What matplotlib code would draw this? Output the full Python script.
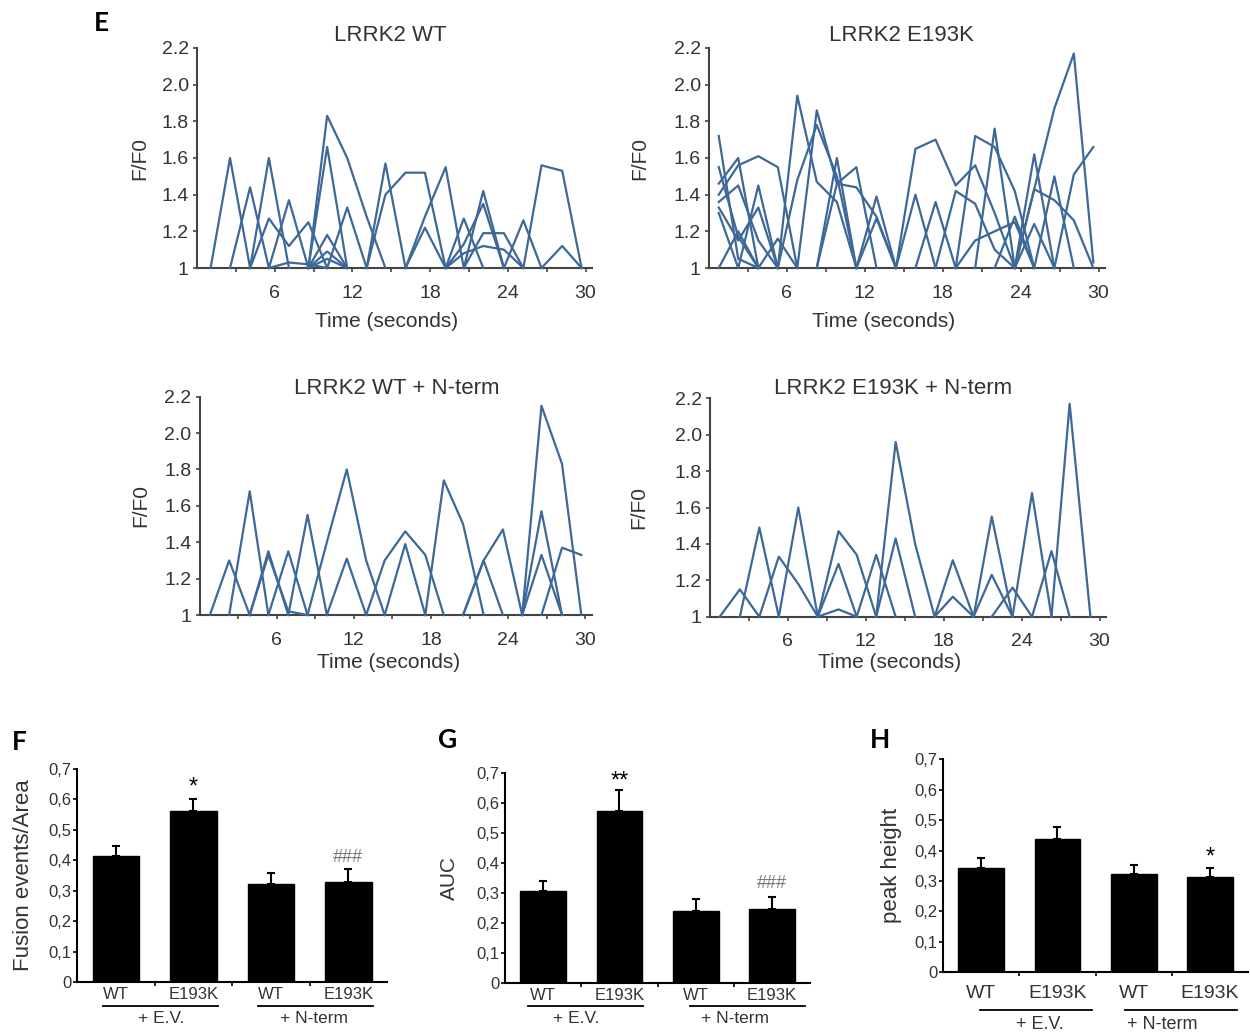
import numpy as np
import matplotlib
matplotlib.use('Agg')
import matplotlib.pyplot as plt
from matplotlib.ticker import FixedLocator, FuncFormatter

plt.rcParams['font.family'] = ['Liberation Sans', 'DejaVu Sans']

# -------------------------
# DATA: F/F0 traces, each as (first frame index, values)
# -------------------------
time_wt = [1.05, 2.55, 4.1, 5.55, 7.1, 8.6, 10.05, 11.6, 13.1, 14.55,
           16.1, 17.6, 19.2, 20.6, 22.1, 23.7, 25.2, 26.6, 28.2, 29.7]
time_e193k = [0.75, 2.25, 3.8, 5.3, 6.8, 8.3, 9.85, 11.35, 12.9, 14.4,
              15.9, 17.45, 19.0, 20.5, 22.0, 23.55, 25.05, 26.6, 28.1, 29.6]
time_wt_nterm = [0.8, 2.3, 3.9, 5.35, 6.9, 8.4, 9.9, 11.45, 12.96, 14.4,
                 16.0, 17.56, 19.0, 20.5, 22.1, 23.6, 25.1, 26.6, 28.2, 29.7]
time_e193k_nterm = [0.75, 2.3, 3.8, 5.3, 6.8, 8.3, 9.9, 11.3, 12.8, 14.3,
                    15.8, 17.3, 18.7, 20.3, 21.7, 23.3, 24.8, 26.3, 27.7, 29.3]

traces_wt = [
    (0, [1, 1.6, 1]), (1, [1, 1.44, 1]), (2, [1, 1.6, 1]),
    (2, [1, 1.27, 1.12, 1.25, 1]), (3, [1, 1.37, 1]), (3, [1, 1.03, 1.02, 1]),
    (5, [1, 1.83, 1.6, 1.28, 1]), (5, [1, 1.66, 1]), (6, [1, 1.33, 1]),
    (5, [1, 1.18, 1]), (5, [1, 1.09, 1]), (5, [1, 1.05, 1]),
    (8, [1, 1.57, 1]), (8, [1, 1.4, 1.52, 1.52, 1]), (10, [1, 1.28, 1.55, 1]),
    (10, [1, 1.22, 1]), (12, [1, 1.27, 1]), (13, [1, 1.42, 1]),
    (12, [1, 1.13, 1.35, 1]), (13, [1, 1.19, 1.19, 1]), (15, [1, 1.26, 1]),
    (16, [1, 1.56, 1.53, 1]), (17, [1, 1.12, 1]), (12, [1, 1.08, 1.12, 1.1, 1]),
]

traces_e193k = [
    (0, [1.72, 1.05, 1]), (0, [1.55, 1.17, 1]), (0, [1.46, 1.6, 1]),
    (0, [1.4, 1.56, 1.61, 1.55, 1]), (0, [1.36, 1.45, 1.15, 1]),
    (0, [1.33, 1.15, 1.33, 1]), (0, [1.3, 1, 1.45, 1]), (0, [1, 1.2, 1]),
    (2, [1, 1.16, 1]), (3, [1, 1.94, 1.47, 1.36, 1]),
    (4, [1, 1.86, 1.46, 1.44, 1.28, 1]), (3, [1, 1.48, 1.78, 1.5, 1]),
    (5, [1, 1.6, 1]), (5, [1, 1.46, 1.55, 1]), (7, [1, 1.39, 1]),
    (7, [1, 1.27, 1]), (9, [1, 1.65, 1.7, 1.45, 1.56, 1.3, 1]),
    (12, [1, 1.72, 1.66, 1.42, 1]), (13, [1, 1.76, 1]), (9, [1, 1.4, 1]),
    (10, [1, 1.36, 1]), (11, [1, 1.42, 1.35, 1.1, 1]), (14, [1, 1.28, 1]),
    (15, [1, 1.62, 1]), (15, [1, 1.43, 1.87, 2.17, 1.03]),
    (15, [1, 1.43, 1.37, 1.26, 1]), (17, [1, 1.51, 1.66]),
    (16, [1, 1.5, 1]), (15, [1, 1.24, 1]), (12, [1, 1.15, 1.2, 1.25, 1]),
]

traces_wt_nterm = [
    (0, [1, 1.3, 1]), (1, [1, 1.68, 1]), (2, [1, 1.35, 1]),
    (2, [1, 1.33, 1.02, 1]), (3, [1, 1.35, 1]), (4, [1, 1.55, 1]),
    (5, [1, 1.4, 1.8, 1.3, 1]), (6, [1, 1.31, 1]), (8, [1, 1.3, 1.46, 1.33, 1]),
    (9, [1, 1.39, 1]), (11, [1, 1.74, 1.5, 1]), (13, [1, 1.3, 1.47, 1]),
    (13, [1, 1.3, 1]), (16, [1, 2.15, 1.83, 1]), (16, [1, 1.57, 1]),
    (16, [1, 1.33, 1]), (17, [1, 1.37, 1.33]),
]

traces_e193k_nterm = [
    (0, [1, 1.15, 1]), (1, [1, 1.49, 1]), (2, [1, 1.33, 1.18, 1]),
    (3, [1, 1.6, 1]), (5, [1, 1.47, 1.34, 1]), (5, [1, 1.29, 1]),
    (5, [1, 1.04, 1]), (7, [1, 1.34, 1]), (8, [1, 1.96, 1.4, 1]),
    (8, [1, 1.43, 1]), (11, [1, 1.31, 1]), (11, [1, 1.11, 1]),
    (13, [1, 1.55, 1]), (13, [1, 1.23, 1]), (14, [1, 1.16, 1]),
    (15, [1, 1.68, 1]), (16, [1, 1.36, 1]), (17, [1, 2.17, 1]),
]

# bar charts
groups = ['WT', 'E193K', 'WT', 'E193K']
fusion_mean = [0.415, 0.562, 0.322, 0.33]
fusion_err = [0.031, 0.038, 0.035, 0.043]
auc_mean = [0.307, 0.574, 0.24, 0.246]
auc_err = [0.031, 0.068, 0.04, 0.041]
peak_mean = [0.342, 0.437, 0.324, 0.314]
peak_err = [0.035, 0.039, 0.029, 0.03]

# -------------------------
# FIGURE
# -------------------------
W, H = 1250, 1033
fig = plt.figure(figsize=(W / 100, H / 100), dpi=100, facecolor='w')


def box(l, t, r, b):
    return [l / W, 1 - b / H, (r - l) / W, (b - t) / H]


LINE_C = '#3d6898'
TXT = '#333333'


def trace_panel(rect, time, traces, title, tx, ty, ylx, xlx, xly):
    ax = fig.add_axes(rect)
    for start, vals in traces:
        ax.plot(time[start:start + len(vals)], vals, color=LINE_C, lw=1.6,
                clip_on=False, zorder=3)
    ax.set_xlim(0, 30.5)
    ax.set_ylim(1, 2.2)
    for s in ['top', 'right']:
        ax.spines[s].set_visible(False)
    for s in ['left', 'bottom']:
        ax.spines[s].set_color('#444444')
        ax.spines[s].set_linewidth(1.5)
    ax.xaxis.set_major_locator(FixedLocator([6, 12, 18, 24, 30]))
    ax.xaxis.set_minor_locator(FixedLocator([3, 9, 15, 21, 27]))
    ax.yaxis.set_major_locator(FixedLocator([1, 1.2, 1.4, 1.6, 1.8, 2.0, 2.2]))
    ax.yaxis.set_major_formatter(FuncFormatter(lambda v, p: '1' if abs(v - 1) < 1e-6 else '%.1f' % v))
    ax.tick_params(axis='x', which='both', direction='out', length=3, width=1.2,
                   color='#444444', labelsize=14, labelcolor=TXT, pad=9)
    ax.tick_params(axis='y', direction='out', length=3, width=1.2,
                   color='#444444', labelsize=14, labelcolor=TXT, pad=3)
    ax.set_ylabel('F/F0', fontsize=15, color=TXT)
    ax.yaxis.set_label_coords(ylx, 0.5)
    ax.set_xlabel('Time (seconds)', fontsize=15, color=TXT)
    ax.xaxis.set_label_coords(xlx, xly)
    ax.text(tx, ty, title, transform=ax.transAxes, ha='center', va='baseline',
            fontsize=16, color=TXT)
    return ax


trace_panel(box(197, 48, 592, 268), time_wt, traces_wt, 'LRRK2 WT',
            0.49, 1.03, -0.12, 0.48, -0.20)
trace_panel(box(709, 48, 1105, 268), time_e193k, traces_e193k, 'LRRK2 E193K',
            0.486, 1.03, -0.15, 0.44, -0.20)
trace_panel(box(199.6, 396.7, 591.6, 615), time_wt_nterm, traces_wt_nterm,
            'LRRK2 WT + N-term', 0.504, 1.012, -0.125, 0.483, -0.175)
trace_panel(box(710, 398.3, 1106, 616.7), time_e193k_nterm, traces_e193k_nterm,
            'LRRK2 E193K + N-term', 0.462, 1.018, -0.155, 0.454, -0.165)


def bar_panel(rect, means, errs, ylabel, ylx, fs_cat, cat_pad, line_y, lab_y,
              lines, lab_x, fs_lab, marks):
    ax = fig.add_axes(rect)
    x = np.arange(len(groups)) + 0.5
    ax.bar(x, means, width=0.6, color='black', edgecolor='black')
    ax.errorbar(x, means, yerr=[np.zeros(len(errs)), errs], fmt='none',
                ecolor='black', elinewidth=1.5, capsize=3, capthick=1.5)
    ax.set_xlim(0, 4)
    ax.set_ylim(0, 0.7)
    for s in ['top', 'right']:
        ax.spines[s].set_visible(False)
    for s in ['left', 'bottom']:
        ax.spines[s].set_linewidth(1.5)
    ax.yaxis.set_major_locator(FixedLocator([0, 0.1, 0.2, 0.3, 0.4, 0.5, 0.6, 0.7]))
    ax.yaxis.set_major_formatter(FuncFormatter(lambda v, p: '0' if abs(v) < 1e-6 else ('%.1f' % v).replace('.', ',')))
    ax.tick_params(axis='y', direction='out', length=3, width=1.2,
                   labelsize=12, labelcolor=TXT, pad=1)
    ax.xaxis.set_major_locator(FixedLocator([1, 2, 3]))
    ax.xaxis.set_major_formatter(FuncFormatter(lambda v, p: ''))
    ax.xaxis.set_minor_locator(FixedLocator(list(x)))
    ax.set_xticklabels(groups, minor=True)
    ax.tick_params(axis='x', which='major', direction='out', length=3, width=1.2)
    ax.tick_params(axis='x', which='minor', length=0, labelsize=fs_cat,
                   labelcolor=TXT, pad=cat_pad)
    ax.set_ylabel(ylabel, fontsize=16 if len(ylabel) > 4 else 15, color=TXT)
    ax.yaxis.set_label_coords(ylx, 0.5)
    tr = ax.get_xaxis_transform()
    for (a, b) in lines:
        ax.plot([a, b], [line_y, line_y], color='black', lw=1.3,
                transform=tr, clip_on=False)
    for xx, lab in zip(lab_x, ['+ E.V.', '+ N-term']):
        ax.text(xx, lab_y, lab, transform=tr, ha='center', va='center',
                fontsize=fs_lab, color=TXT)
    for xx, yy, s, c, fs in marks:
        ax.text(xx, yy, s, ha='center', va='center', fontsize=fs, color=c)
    return ax


bar_panel(box(77, 769, 387, 982), fusion_mean, fusion_err,
          'Fusion events/Area', -0.14, 12, 3.5, -0.112, -0.171,
          [(0.335, 1.82), (2.34, 3.82)], [1.08, 3.06], 12.5,
          [(1.5, 0.64, '*', 'black', 17), (3.5, 0.41, '###', '#777777', 13)])
bar_panel(box(505, 772.7, 810, 983), auc_mean, auc_err,
          'AUC', -0.15, 12, 3.5, -0.11, -0.168,
          [(0.30, 1.81), (2.43, 3.93)], [0.94, 3.02], 12.5,
          [(1.5, 0.672, '**', 'black', 17), (3.5, 0.33, '###', '#777777', 13)])
bar_panel(box(943, 759.3, 1248, 972.3), peak_mean, peak_err,
          'peak height', -0.134, 14, 9, -0.177, -0.247,
          [(0.49, 1.95), (2.39, 3.86)], [1.27, 2.87], 13,
          [(3.5, 0.376, '*', 'black', 17)])

# panel letters
for lx, ly, letter in [(101, 23, 'E'), (19, 742, 'F'), (448, 740, 'G'), (880, 740, 'H')]:
    fig.text(lx / W, 1 - ly / H, letter, ha='center', va='center',
             fontsize=19, fontweight='bold', family='Lato')

fig.savefig('out.png', dpi=100, facecolor='w')
